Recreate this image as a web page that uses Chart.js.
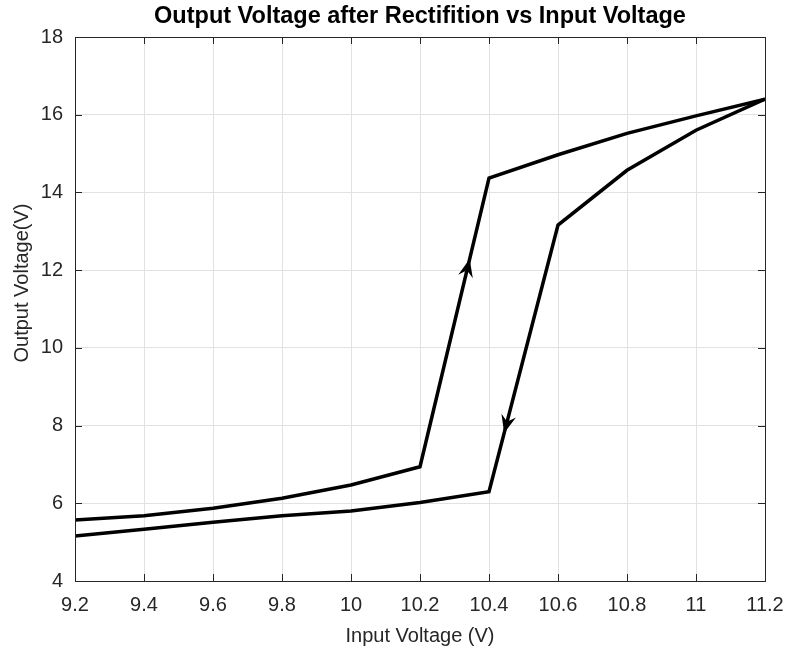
<!DOCTYPE html>
<html>
<head>
<meta charset="utf-8">
<script src="https://cdn.jsdelivr.net/npm/chart.js@4"></script>
<style>
  html, body { margin: 0; padding: 0; background: #fff; }
  #wrap { width: 790px; height: 652px; }
</style>
</head>
<body>
<div id="wrap"><canvas id="hyst" width="790" height="652"></canvas></div>
<script>
// input voltage steps (V)
const inputV = [9.2, 9.4, 9.6, 9.8, 10, 10.2, 10.4, 10.6, 10.8, 11, 11.2];
// output when sweeping up / down
const outUp = [5.57, 5.68, 5.87, 6.13, 6.47, 6.94, 14.37, 14.97, 15.52, 15.97, 16.40];
const outDown = [5.16, 5.33, 5.51, 5.68, 5.80, 6.02, 6.30, 13.16, 14.57, 15.60, 16.40];

const xTicks = [9.2, 9.4, 9.6, 9.8, 10, 10.2, 10.4, 10.6, 10.8, 11, 11.2];
const yTicks = [4, 6, 8, 10, 12, 14, 16, 18];

// direction arrows: series index, segment start/end index, fraction along it
const arrowSeries = [0, 1];
const arrowFrom = [5, 7];
const arrowTo = [6, 6];
const arrowAt = [0.72, 0.78];

const TITLE = 'Output Voltage after Rectifition vs Input Voltage';
const FONT = '"Liberation Sans", Arial, Helvetica, sans-serif';
const AXIS = '#262626';

function fmtTick(v) {
  return String(Number(v.toFixed(1)));
}

const boxPlugin = {
  id: 'matlabBox',
  afterDraw(chart) {
    const c = chart.ctx;
    const a = chart.chartArea;
    const xs = chart.scales.x, ys = chart.scales.y;
    c.save();

    // arrows
    c.fillStyle = '#000';
    arrowSeries.forEach((s, i) => {
      const pts = chart.data.datasets[s].data;
      const p0 = pts[arrowFrom[i]], p1 = pts[arrowTo[i]];
      const x0 = xs.getPixelForValue(p0.x), y0 = ys.getPixelForValue(p0.y);
      const x1 = xs.getPixelForValue(p1.x), y1 = ys.getPixelForValue(p1.y);
      const tx = x0 + (x1 - x0) * arrowAt[i];
      const ty = y0 + (y1 - y0) * arrowAt[i];
      const len = Math.hypot(x1 - x0, y1 - y0);
      const dx = (x1 - x0) / len, dy = (y1 - y0) / len;
      const nx = -dy, ny = dx;
      const L = 18, W = 15;
      c.beginPath();
      c.moveTo(tx, ty);
      c.lineTo(tx - L * dx + W / 2 * nx, ty - L * dy + W / 2 * ny);
      c.lineTo(tx - 0.65 * L * dx, ty - 0.65 * L * dy);
      c.lineTo(tx - L * dx - W / 2 * nx, ty - L * dy - W / 2 * ny);
      c.closePath();
      c.fill();
    });

    // box and inward ticks
    c.strokeStyle = AXIS;
    c.lineWidth = 1;
    c.strokeRect(Math.round(a.left) + 0.5, Math.round(a.top) + 0.5,
      Math.round(a.right - a.left), Math.round(a.bottom - a.top));
    const tl = 7;
    c.beginPath();
    xTicks.forEach(v => {
      const px = Math.round(xs.getPixelForValue(v)) + 0.5;
      c.moveTo(px, a.bottom); c.lineTo(px, a.bottom - tl);
      c.moveTo(px, a.top); c.lineTo(px, a.top + tl);
    });
    yTicks.forEach(v => {
      const py = Math.round(ys.getPixelForValue(v)) + 0.5;
      c.moveTo(a.left, py); c.lineTo(a.left + tl, py);
      c.moveTo(a.right, py); c.lineTo(a.right - tl, py);
    });
    c.stroke();

    // title, centred on the axes like matlab does
    c.textAlign = 'center';
    c.textBaseline = 'middle';
    c.fillStyle = '#000';
    c.font = 'bold 23.5px ' + FONT;
    c.fillText(TITLE, (a.left + a.right) / 2, 17);

    // axis titles
    c.fillStyle = AXIS;
    c.font = '20px ' + FONT;
    c.fillText('Input Voltage (V)', (a.left + a.right) / 2, 636);
    c.translate(22, 283);
    c.rotate(-Math.PI / 2);
    c.fillText('Output Voltage(V)', 0, 0);
    c.restore();
  }
};

const ctx = document.getElementById('hyst').getContext('2d');

new Chart(ctx, {
  type: 'line',
  data: {
    datasets: [
      {
        label: 'Sweep up',
        data: inputV.map((v, i) => ({ x: v, y: outUp[i] })),
        borderColor: '#000',
        borderWidth: 3.5,
        pointRadius: 0,
        tension: 0,
        fill: false
      },
      {
        label: 'Sweep down',
        data: inputV.map((v, i) => ({ x: v, y: outDown[i] })),
        borderColor: '#000',
        borderWidth: 3.5,
        pointRadius: 0,
        tension: 0,
        fill: false
      }
    ]
  },
  options: {
    responsive: false,
    animation: false,
    layout: { padding: { left: 0, right: 25, top: 37, bottom: 7 } },
    plugins: {
      legend: { display: false },
      tooltip: { enabled: false },
      title: { display: false }
    },
    scales: {
      x: {
        type: 'linear',
        min: 9.2,
        max: 11.2,
        afterBuildTicks: s => { s.ticks = xTicks.map(v => ({ value: v })); },
        afterFit: s => { s.height = 64; s.paddingLeft = 0; s.paddingRight = 0; },
        ticks: {
          color: AXIS,
          font: { family: FONT, size: 20 },
          padding: 12,
          maxRotation: 0,
          autoSkip: false,
          callback: v => fmtTick(v)
        },
        grid: { color: '#e2e2e2', drawTicks: false },
        border: { display: false }
      },
      y: {
        min: 4,
        max: 18,
        afterBuildTicks: s => { s.ticks = yTicks.map(v => ({ value: v })); },
        afterFit: s => { s.width = 75; s.paddingTop = 0; s.paddingBottom = 0; },
        ticks: {
          color: AXIS,
          font: { family: FONT, size: 20 },
          padding: 12,
          callback: v => String(v)
        },
        grid: { color: '#e2e2e2', drawTicks: false },
        border: { display: false }
      }
    }
  },
  plugins: [boxPlugin]
});
</script>
</body>
</html>
